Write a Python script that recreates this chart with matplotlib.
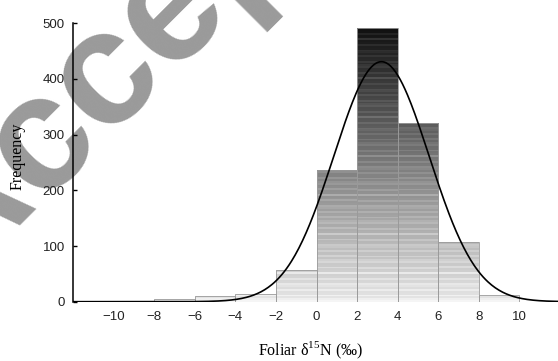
import matplotlib
matplotlib.use("Agg")
import matplotlib.pyplot as plt
import numpy as np

# ── Data ─────────────────────────────────────────────────────────────────────
bin_edges = [-10, -8, -6, -4, -2, 0, 2, 4, 6, 8, 10]
counts    = [2, 4, 10, 14, 57, 236, 492, 321, 107, 12]

fit_mean  = 3.2     # normal curve fitted to the histogram
fit_sd    = 2.35
fit_peak  = 431

x_ticks  = [-10, -8, -6, -4, -2, 0, 2, 4, 6, 8, 10]
y_ticks  = [0, 100, 200, 300, 400, 500]

# ── Figure ────────────────────────────────────────────────────────────────────
W, H = 558, 361
fig = plt.figure(figsize=(W / 100, H / 100), dpi=100)
ax = fig.add_axes([0.1308, 0.1643, 0.8692, 0.7712])
ax.set_facecolor("none")          # let the watermark behind show through
ax.set_xlim(-12, 11.9)
ax.set_ylim(0, 500)

# bars: outline only, then a striped grey gradient clipped to each bar
lefts  = np.array(bin_edges[:-1])
widths = np.diff(bin_edges)
bars = ax.bar(lefts, counts, width=widths, align="edge",
              facecolor="none", edgecolor="#9a9a9a", linewidth=0.6, zorder=3)

n_rows = 150
levels = np.linspace(0, 1, n_rows)
grey = 0.9 - 0.85 * levels
grey[::3] = np.minimum(grey[::3] + 0.06, 1.0)      # light horizontal streaks
grey[1::7] = np.minimum(grey[1::7] + 0.04, 1.0)
grad = np.tile(grey[:, None], (1, 2))
for b in bars:
    im = ax.imshow(grad, cmap="gray", vmin=0, vmax=1, origin="lower",
                   extent=(-12, 12, 0, 500), aspect="auto",
                   interpolation="nearest", zorder=2)
    im.set_clip_path(b)

# normal curve
xs = np.linspace(-12, 12, 400)
ys = fit_peak * np.exp(-0.5 * ((xs - fit_mean) / fit_sd) ** 2)
ax.plot(xs, ys, color="black", linewidth=1.2, zorder=4)

# ── Axes formatting ───────────────────────────────────────────────────────────
for side in ["top", "right", "bottom"]:
    ax.spines[side].set_visible(False)
ax.spines["left"].set_linewidth(1.1)
ax.spines["left"].set_zorder(6)

ax.set_xticks(x_ticks)
ax.set_yticks(y_ticks)
ax.tick_params(axis="x", length=0, pad=7, labelsize=9.5, labelcolor="#222222")
ax.tick_params(axis="y", direction="in", length=3, width=1, pad=5.8,
               labelsize=9.5, labelcolor="#222222")
for lab in ax.get_xticklabels() + ax.get_yticklabels():
    lab.set_fontfamily("Liberation Sans")

fig.text(0.032, 0.568, "Frequency", rotation=90, ha="center", va="center",
         fontsize=11.5, family="Liberation Serif")
fig.text(0.556, 0.016, r"Foliar δ$^{\mathregular{15}}$N (‰)", ha="center",
         va="baseline", fontsize=11.5, family="Liberation Serif")

# ── "Accepted" watermark, letter by letter along a 45° baseline ──────────────
wm_letters = "Accepted"
wm_adv = [0.722, 0.556, 0.556, 0.556, 0.611, 0.333, 0.556, 0.611]  # em units
wm_size = 118                       # pt
em = wm_size * 100 / 72             # px
ang = np.deg2rad(45)
u = np.array([np.cos(ang), -np.sin(ang)])     # along baseline (screen px)
v = np.array([-np.sin(ang), -np.cos(ang)])    # "up" from baseline
anchor = np.array([105.0, 75.0])              # centre of second "c"
centres = np.cumsum(wm_adv) - np.array(wm_adv) / 2
for ch, c in zip(wm_letters, centres):
    p = anchor + (c - centres[2]) * em * u - 0.265 * em * v
    fig.text(p[0] / W, 1 - p[1] / H, ch, rotation=45, rotation_mode="anchor",
             ha="center", va="baseline", fontsize=wm_size, fontweight="bold",
             family="Liberation Sans", color="#9a9a9a", zorder=-1)

fig.savefig("out.png", dpi=100)
